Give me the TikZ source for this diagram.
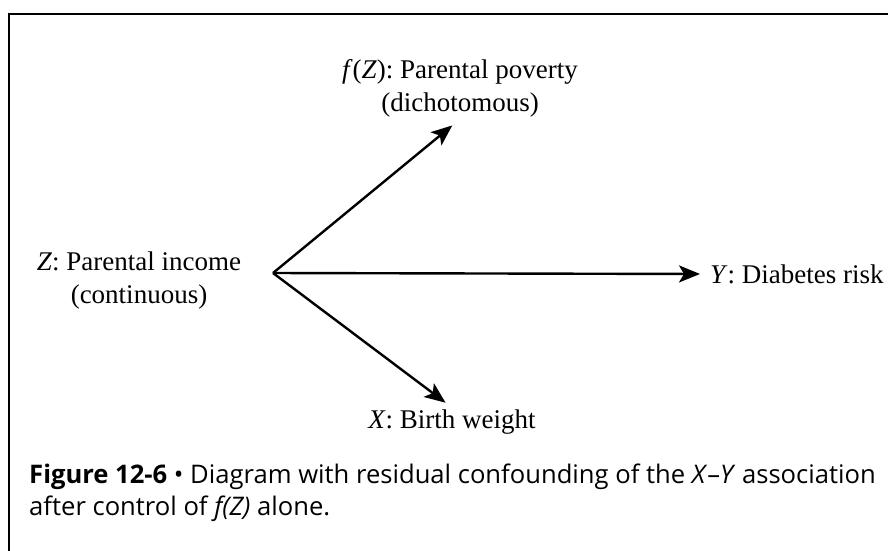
\documentclass[tikz,border=0pt]{standalone}
\usepackage{fontspec}
\setmainfont{Liberation Serif}
\newfontfamily\capfont{Open Sans}
\usetikzlibrary{arrows.meta}

\begin{document}
\begin{tikzpicture}[
      x=1pt, y=-1pt,
      every node/.style={font=\fontsize{27}{33}\selectfont},
      var/.style={align=center, inner sep=2pt},
      arrow/.style={-{Stealth[length=21pt,width=17pt,inset=5pt]}, line width=2.4pt},
      frame/.style={line width=2.6pt}
    ]
      \useasboundingbox (0,0) rectangle (888,550);
      \draw[frame] (9,552) -- (9,14) -- (890,14);
      \coordinate (hub) at (273,273);
      \node[var] (fz) at (460,88) {\textit{f}(\textit{Z}): Parental poverty\\(dichotomous)};
      \node[var] (z) at (139,280) {\textit{Z}: Parental income\\(continuous)};
      \node[var, anchor=west] (y) at (708,274) {\textit{Y}: Diabetes risk};
      \node[var] (x) at (452,422) {\textit{X}: Birth weight};
      \draw[arrow, shorten >=10pt] (hub) -- (fz.south);
      \draw[arrow, shorten >=8pt] (hub) -- (y.west);
      \draw[arrow, shorten >=8pt] (hub) -- (x.north);
      \node[anchor=base west, inner sep=0pt, align=left,
            font=\capfont\fontsize{25.6}{32}\selectfont] (cap) at (29,515)
        {\textbf{Figure 12-6} • Diagram with residual confounding of the \textit{X}–\textit{Y} association\\
         after control of \textit{f(Z)} alone.};
    \end{tikzpicture}
\end{document}
